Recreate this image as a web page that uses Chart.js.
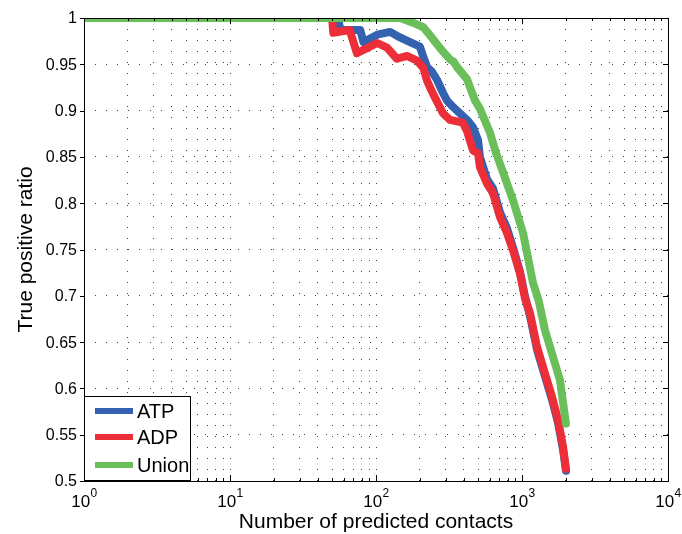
<!DOCTYPE html>
<html>
    <head>
        <meta charset="utf-8">
        <script src="https://cdn.jsdelivr.net/npm/chart.js@4.4.0/dist/chart.umd.min.js"></script>
        <style>
            body { margin: 0; background: #fff; }
        </style>
    </head>
    <body>
        <div style="width: 682px; height: 534px;">
            <canvas id="wykres" width="682" height="534"></canvas>
        </div>
        <script>
            // dane
            var nazwy = ["ATP", "ADP", "Union"];
            var kolory = ["#3461b0", "#ec2e38", "#6bbf5b"];

            var atpX = [1, 55, 57, 78, 82, 102, 125, 146, 171, 200, 211, 224, 242, 262, 288, 306, 337, 376, 420, 462, 500, 515, 576, 633, 707, 789, 868, 969, 1049, 1135, 1267, 1437, 1604, 1765, 1910, 2000];
            var atpY = [1, 1, 0.987, 0.987, 0.974, 0.982, 0.985, 0.979, 0.974, 0.969, 0.958, 0.947, 0.942, 0.933, 0.919, 0.911, 0.904, 0.897, 0.890, 0.882, 0.868, 0.850, 0.826, 0.816, 0.790, 0.773, 0.752, 0.726, 0.699, 0.678, 0.642, 0.613, 0.588, 0.563, 0.534, 0.511];

            var adpX = [1, 50, 51, 66, 74, 102, 119, 139, 163, 191, 211, 224, 246, 288, 321, 394, 420, 462, 500, 515, 576, 633, 707, 789, 868, 969, 1049, 1135, 1267, 1437, 1604, 1765, 1910, 2000];
            var adpY = [1, 1, 0.984, 0.987, 0.962, 0.973, 0.968, 0.956, 0.959, 0.954, 0.946, 0.932, 0.918, 0.897, 0.890, 0.887, 0.878, 0.857, 0.854, 0.839, 0.821, 0.811, 0.785, 0.768, 0.749, 0.724, 0.697, 0.681, 0.645, 0.616, 0.591, 0.566, 0.537, 0.513];

            var unionX = [1, 146, 179, 211, 227, 283, 322, 340, 359, 420, 476, 515, 604, 664, 720, 868, 1016, 1189, 1300, 1437, 1820, 2000];
            var unionY = [1, 1, 0.995, 0.990, 0.984, 0.965, 0.955, 0.953, 0.947, 0.934, 0.911, 0.902, 0.876, 0.854, 0.839, 0.803, 0.768, 0.714, 0.695, 0.663, 0.609, 0.562];

            var xTicks = [1, 2, 3, 4, 5, 6, 7, 8, 9, 10, 20, 30, 40, 50, 60, 70, 80, 90, 100, 200, 300, 400, 500, 600, 700, 800, 900, 1000, 2000, 3000, 4000, 5000, 6000, 7000, 8000, 9000, 10000];
            var xMajor = [1, 10, 100, 1000, 10000];
            var xExp = ["0", "1", "2", "3", "4"];
            var yTicks = [0.5, 0.55, 0.6, 0.65, 0.7, 0.75, 0.8, 0.85, 0.9, 0.95, 1];
            var yTickLabels = ["0.5", "0.55", "0.6", "0.65", "0.7", "0.75", "0.8", "0.85", "0.9", "0.95", "1"];
            var xTitle = "Number of predicted contacts";
            var yTitle = "True positive ratio";

            function punkty(xs, ys) {
                return xs.map(function (x, i) { return { x: x, y: ys[i] }; });
            }

            var serie = [punkty(atpX, atpY), punkty(adpX, adpY), punkty(unionX, unionY)];
            var dane = {
                datasets: serie.map(function (d, i) {
                    return {
                        label: nazwy[i],
                        data: d,
                        showLine: true,
                        borderColor: kolory[i],
                        backgroundColor: kolory[i],
                        borderWidth: 8,
                        borderCapStyle: "round",
                        borderJoinStyle: "round",
                        pointRadius: 0,
                        clip: 0,
                        order: 2 - i
                    };
                })
            };

            var FONT = "'Liberation Sans', Arial, Helvetica, sans-serif";

            // osie, etykiety, legenda w stylu MATLAB-a
            var rysunek = {
                id: "rysunek",
                afterDraw: function (chart) {
                    var c = chart.ctx;
                    var a = chart.chartArea;
                    var sx = chart.scales.x;
                    var sy = chart.scales.y;
                    c.save();
                    c.setLineDash([]);
                    c.strokeStyle = "#000";
                    c.lineWidth = 1;

                    // znaczniki
                    c.beginPath();
                    xTicks.forEach(function (v) {
                        var px = Math.round(sx.getPixelForValue(v)) + 0.5;
                        var len = xMajor.indexOf(v) >= 0 ? 6 : 3;
                        c.moveTo(px, a.bottom); c.lineTo(px, a.bottom - len);
                        c.moveTo(px, a.top); c.lineTo(px, a.top + len);
                    });
                    yTicks.forEach(function (v) {
                        var py = Math.round(sy.getPixelForValue(v)) + 0.5;
                        c.moveTo(a.left - 4, py); c.lineTo(a.left, py);
                        c.moveTo(a.right, py); c.lineTo(a.right - 5, py);
                    });
                    c.stroke();

                    // ramka
                    c.strokeRect(Math.round(a.left) + 0.5, Math.round(a.top) + 0.5, Math.round(a.right - a.left), Math.round(a.bottom - a.top));

                    c.fillStyle = "#000";
                    // etykiety y
                    c.font = "16px " + FONT;
                    c.textAlign = "right";
                    c.textBaseline = "middle";
                    yTicks.forEach(function (v, i) {
                        c.fillText(yTickLabels[i], a.left - 7, sy.getPixelForValue(v) + 1);
                    });

                    // etykiety x: 10 z wykladnikiem
                    c.textAlign = "left";
                    c.textBaseline = "alphabetic";
                    xMajor.forEach(function (v, i) {
                        c.font = "17px " + FONT;
                        var w1 = c.measureText("10").width;
                        c.font = "12px " + FONT;
                        var w2 = c.measureText(xExp[i]).width;
                        var x0 = sx.getPixelForValue(v) - (w1 + w2) / 2;
                        c.font = "17px " + FONT;
                        c.fillText("10", x0, 507);
                        c.font = "12px " + FONT;
                        c.fillText(xExp[i], x0 + w1 + 0.5, 497);
                    });

                    // tytuly osi
                    c.font = "21px " + FONT;
                    c.textAlign = "center";
                    c.fillText(xTitle, (a.left + a.right) / 2, 528);
                    c.save();
                    c.translate(32, (a.top + a.bottom) / 2);
                    c.rotate(-Math.PI / 2);
                    c.fillText(yTitle, 0, 0);
                    c.restore();

                    // legenda
                    var lx = Math.round(a.left) + 0.5, ly = 396.5, lw = 106, lh = 84;
                    c.fillStyle = "#fff";
                    c.fillRect(lx, ly, lw, lh);
                    c.strokeRect(lx, ly, lw, lh);
                    c.font = "20px " + FONT;
                    c.textAlign = "left";
                    c.textBaseline = "middle";
                    var wiersze = [411, 437, 465];
                    nazwy.forEach(function (n, i) {
                        c.strokeStyle = kolory[i];
                        c.lineWidth = 6;
                        c.beginPath();
                        c.moveTo(95, wiersze[i]);
                        c.lineTo(133, wiersze[i]);
                        c.stroke();
                        c.fillStyle = "#000";
                        c.fillText(n, 137, wiersze[i] + 1);
                    });
                    c.restore();
                }
            };

            var siatka = { color: "rgba(30,30,30,0.85)", lineWidth: 1, drawTicks: false };
            var ctx = document.getElementById("wykres").getContext("2d");
            var wykres = new Chart(ctx, {
                type: "scatter",
                data: dane,
                options: {
                    responsive: false,
                    animation: false,
                    layout: { padding: { left: 0, right: 14, top: 18, bottom: 0 } },
                    plugins: { legend: { display: false }, tooltip: { enabled: false } },
                    scales: {
                        x: {
                            type: "logarithmic",
                            min: 1,
                            max: 10000,
                            afterBuildTicks: function (s) { s.ticks = xTicks.map(function (v) { return { value: v }; }); },
                            afterFit: function (s) { s.height = 53; },
                            ticks: { display: false },
                            grid: siatka,
                            border: { display: false, dash: [1, 10] }
                        },
                        y: {
                            type: "linear",
                            min: 0.5,
                            max: 1,
                            afterBuildTicks: function (s) { s.ticks = yTicks.map(function (v) { return { value: v }; }); },
                            afterFit: function (s) { s.width = 84; },
                            ticks: { display: false },
                            grid: siatka,
                            border: { display: false, dash: [1, 10] }
                        }
                    }
                },
                plugins: [rysunek]
            });
        </script>
    </body>
</html>
